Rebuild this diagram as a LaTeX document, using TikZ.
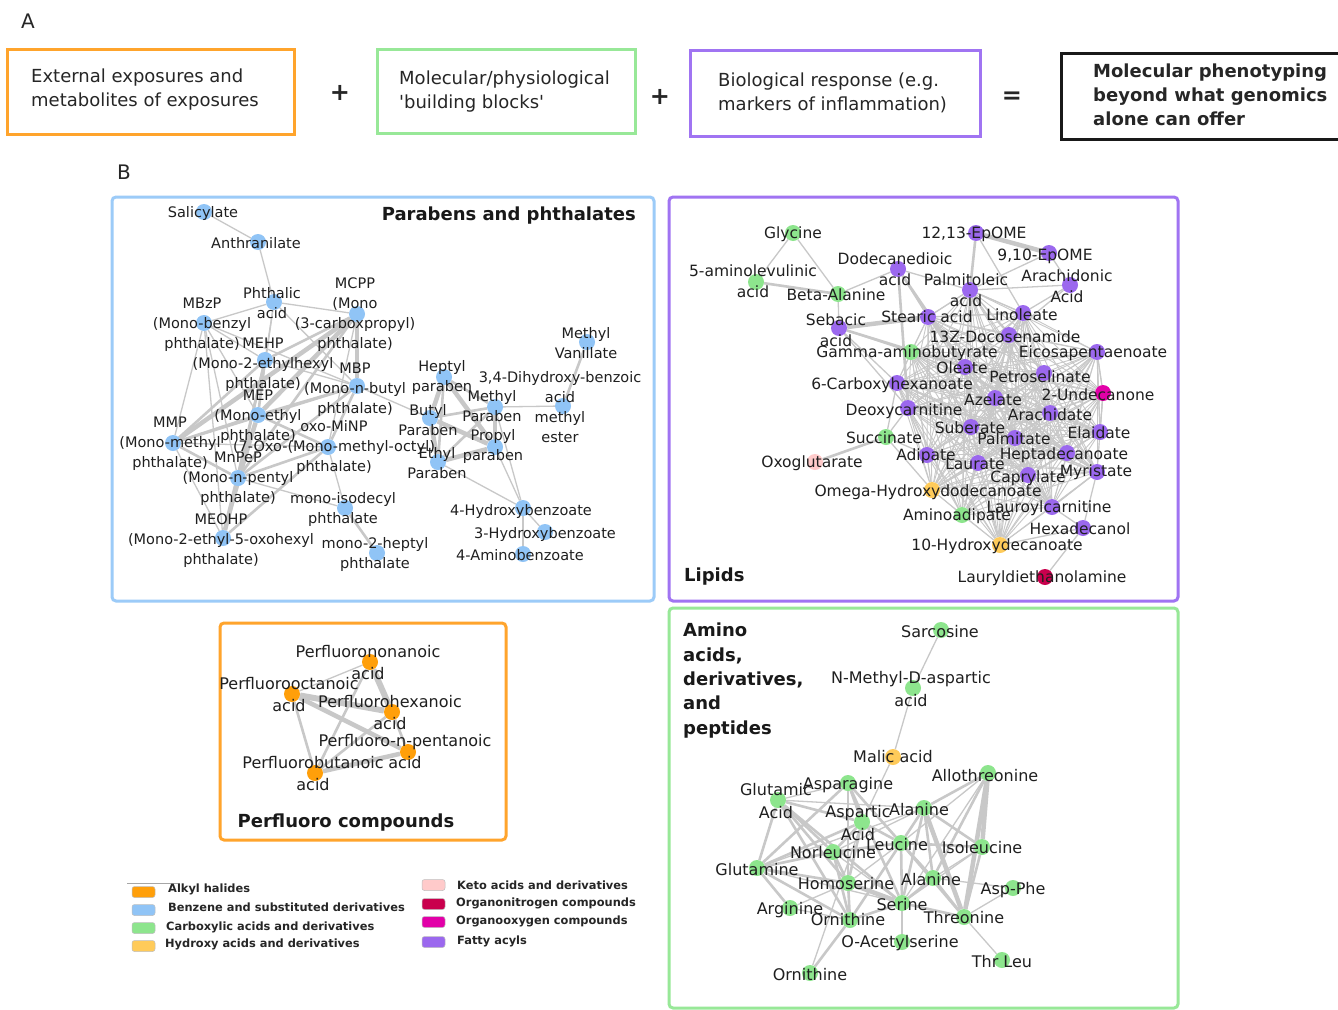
\documentclass[tikz,border=0pt]{standalone}
\usepackage{fontspec}
\setmainfont{DejaVu Sans}
\newfontfamily\nomapfont{DejaVu Sans}[Ligatures=TeXOff]
\definecolor{cbenz}{HTML}{90C4F6}
\definecolor{corange}{HTML}{FF9F0A}
\definecolor{cgreen}{HTML}{8DE58D}
\definecolor{cyellow}{HTML}{FFCB5A}
\definecolor{cpurple}{HTML}{9B68EE}
\definecolor{cpink}{HTML}{FFCACA}
\definecolor{cmag}{HTML}{E200A8}
\definecolor{ccrim}{HTML}{C9004D}
\definecolor{cedge}{HTML}{C8C8C8}
\definecolor{bblue}{HTML}{9CCBF8}
\definecolor{bpurple}{HTML}{A074F2}
\definecolor{borange}{HTML}{FFA42C}
\definecolor{bgreen}{HTML}{98E898}
\pgfdeclarelayer{bg}
\pgfdeclarelayer{edges}
\pgfdeclarelayer{dots}
\pgfsetlayers{bg,edges,dots,main}
\newcommand\mnd[5]{%
  \begin{pgfonlayer}{dots}\node[dot,fill=#2] (#1) at (#3) {};\end{pgfonlayer}%
  \node[lab] (#1-l) at (#4) {#5};}
\newcommand\Edges[2]{\begin{pgfonlayer}{edges}\foreach \a/\b in {#2}{\draw[#1] (\a)--(\b);}\end{pgfonlayer}}
\begin{document}
\begin{tikzpicture}[x=1pt,y=-1pt,
  dot/.style={circle,inner sep=0pt,minimum size=16pt},
  lab/.style={font=\fontsize{14.5}{20}\selectfont,align=center,inner sep=0pt,text=black!88},
  e/.style={draw=cedge,line width=1.3pt},
  em/.style={draw=cedge,line width=2.6pt},
  et/.style={draw=cedge,line width=4.5pt},
  ehair/.style={draw=cedge,line width=0.9pt},
  panel/.style={line width=3pt,rounded corners=4pt},
  topbox/.style={line width=2.6pt,minimum height=85pt,anchor=north west,inner sep=0pt},
  toptxt/.style={font=\fontsize{18}{24}\selectfont,align=left,anchor=west,inner sep=0pt,text=black!85},
  ptitle/.style={font=\bfseries\fontsize{18}{24.3}\selectfont,inner sep=0pt,text=black!90},
  swatch/.style={rounded corners=2.5pt,minimum width=23pt,minimum height=11pt,inner sep=0pt,draw=black!25,line width=0.5pt},
  legtxt/.style={font=\bfseries\fontsize{11.4}{13}\selectfont,anchor=west,inner sep=0pt,text=black!85}
]
\useasboundingbox (0,0) rectangle (1338,1009);
\begin{pgfonlayer}{bg}\fill[white] (0,0) rectangle (1338,1009);\end{pgfonlayer}

% ---------- A ----------
\node[font=\fontsize{20}{24}\selectfont,text=black!85] (labA) at (28,21) {A};
\node[topbox,draw=borange,minimum width=287pt] (b1) at (6,48) {};
\node[toptxt] (t1) at (31,90) {External exposures and\\metabolites of exposures};
\node[font=\bfseries\fontsize{24}{24}\selectfont,text=black!85] (plus1) at (340,93) {+};
\node[topbox,draw=bgreen,minimum width=258pt,minimum height=84pt] (b2) at (376,48) {};
\node[toptxt] (t2) at (399,92) {Molecular/physiological\\{\nomapfont 'building blocks'}};
\node[font=\bfseries\fontsize{24}{24}\selectfont,text=black!85] (plus2) at (660,97) {+};
\node[topbox,draw=bpurple,minimum width=290pt,minimum height=86pt] (b3) at (689,49) {};
\node[toptxt] (t3) at (718,92.5) {Biological response (e.g.\\markers of inflammation)};
\node[font=\bfseries\fontsize{24}{24}\selectfont,text=black!85] (eq) at (1012,98) {=};
\node[topbox,draw=black!90,minimum width=300pt,minimum height=86pt] (b4) at (1060,52) {};
\node[toptxt,font=\bfseries\fontsize{18}{24}\selectfont] (t4) at (1093,95) {Molecular phenotyping\\beyond what genomics\\alone can offer};

% ---------- B ----------
\node[font=\fontsize{20}{24}\selectfont,text=black!85] (labB) at (124,172) {B};

% ===== Parabens and phthalates =====
\draw[panel,draw=bblue] (112,197) rectangle (654,601);
\node[ptitle,anchor=east] (tpar) at (636,216) {Parabens and phthalates};
\mnd{sal}{cbenz}{204,212}{203,213}{Salicylate}
\mnd{ant}{cbenz}{258,242}{256,243}{Anthranilate}
\mnd{pha}{cbenz}{274,302}{272,303}{Phthalic\\acid}
\mnd{mcpp}{cbenz}{357,314}{355,315}{MCPP\\(Mono\\(3-carboxpropyl)\\phthalate)}
\mnd{mbzp}{cbenz}{204,323}{202,325}{MBzP\\(Mono-benzyl\\phthalate)}
\mnd{mehp}{cbenz}{265,360}{263,365}{MEHP\\(Mono-2-ethylhexyl\\phthalate)}
\mnd{mbp}{cbenz}{357,386}{355,390}{MBP\\(Mono-n-butyl\\phthalate)}
\mnd{mep}{cbenz}{258,415}{258,417}{MEP\\(Mono-ethyl\\phthalate)}
\mnd{mmp}{cbenz}{173,443}{170,444}{MMP\\(Mono-methyl\\phthalate)}
\mnd{oxo}{cbenz}{328,447}{334,447}{oxo-MiNP\\(7-Oxo-(Mono-methyl-octyl)\\phthalate)}
\mnd{mnpep}{cbenz}{238,478}{238,479}{MnPeP\\(Mono-n-pentyl\\phthalate)}
\mnd{mid}{cbenz}{345,508}{343,509}{mono-isodecyl\\phthalate}
\mnd{meohp}{cbenz}{223,538}{221,541}{MEOHP\\(Mono-2-ethyl-5-oxohexyl\\phthalate)}
\mnd{mtwoh}{cbenz}{377,553}{375,554}{mono-2-heptyl\\phthalate}
\mnd{mvan}{cbenz}{587,342}{586,343}{Methyl\\Vanillate}
\mnd{hep}{cbenz}{444,377}{442,377}{Heptyl\\paraben}
\mnd{metp}{cbenz}{495,407}{492,406}{Methyl\\Paraben}
\mnd{dhb}{cbenz}{563,406}{560,407}{3,4-Dihydroxy-benzoic\\acid\\methyl\\ester}
\mnd{but}{cbenz}{430,418}{428,420}{Butyl\\Paraben}
\mnd{prop}{cbenz}{495,447}{493,446}{Propyl\\paraben}
\mnd{eth}{cbenz}{438,462}{437,463}{Ethyl\\Paraben}
\mnd{hbf}{cbenz}{523,508}{521,511}{4-Hydroxybenzoate}
\mnd{hbt}{cbenz}{545,532}{545,534}{3-Hydroxybenzoate}
\mnd{abf}{cbenz}{523,554}{520,555}{4-Aminobenzoate}
\Edges{e}{sal/ant,ant/pha,pha/mcpp,pha/mbzp,pha/mehp,pha/mbp,pha/mep,mbzp/mehp,mbzp/mmp,mbzp/meohp,mbzp/mep,mbzp/mbp,mbp/but,oxo/mid,mnpep/mid,mehp/mbp,mmp/oxo,mmp/meohp,mcpp/oxo,mbzp/mnpep,metp/dhb,metp/hbf,eth/hbf,hbf/hbt,hbf/abf,prop/hbf}
\Edges{em}{mid/mtwoh,mcpp/mehp,mcpp/mnpep,mehp/mep,mehp/mmp,mehp/mnpep,mbp/mep,mbp/mmp,mbp/mnpep,mbp/oxo,mep/mmp,mep/oxo,mep/meohp,mmp/mnpep,oxo/mnpep,oxo/meohp,mehp/meohp,hep/metp,but/metp,metp/eth,hep/eth,dhb/mvan}
\Edges{et}{mcpp/mbp,mcpp/mep,mcpp/mmp,mep/mnpep,mnpep/meohp,hep/but,hep/prop,but/prop,but/eth,metp/prop,prop/eth}

% ===== Lipids =====
\draw[panel,draw=bpurple] (669,197) rectangle (1178,601);
\node[ptitle,anchor=west] (tlip) at (684,577) {Lipids};
\tikzset{lab/.style={font=\fontsize{15.5}{20.5}\selectfont,align=center,inner sep=0pt,text=black!88}}
\mnd{gly}{cgreen}{793,233}{793,234}{Glycine}
\mnd{alv}{cgreen}{756,282}{753,281}{5-aminolevulinic\\acid}
\mnd{bala}{cgreen}{838,294}{836,295}{Beta-Alanine}
\mnd{dod}{cpurple}{898,269}{895,269}{Dodecanedioic\\acid}
\mnd{eptw}{cpurple}{976,233}{974,234}{12,13-EpOME}
\mnd{epni}{cpurple}{1049,253}{1045,256}{9,10-EpOME}
\mnd{pal}{cpurple}{970,290}{966,290}{Palmitoleic\\acid}
\mnd{arac}{cpurple}{1070,285}{1067,286}{Arachidonic\\Acid}
\mnd{seb}{cpurple}{839,328}{836,330}{Sebacic\\acid}
\mnd{ste}{cpurple}{928,317}{927,317}{Stearic acid}
\mnd{lin}{cpurple}{1023,313}{1022,315}{Linoleate}
\mnd{doc}{cpurple}{1009,335}{1005,337}{13Z-Docosenamide}
\mnd{gaba}{cgreen}{911,352}{907,353}{Gamma-aminobutyrate}
\mnd{eic}{cpurple}{1097,352}{1093,353}{Eicosapentaenoate}
\mnd{ole}{cpurple}{965,367}{962,368}{Oleate}
\mnd{pet}{cpurple}{1044,373}{1040,377}{Petroselinate}
\mnd{cbx}{cpurple}{897,383}{892,385}{6-Carboxyhexanoate}
\mnd{und}{cmag}{1103,393}{1098,395}{2-Undecanone}
\mnd{aze}{cpurple}{995,398}{993,400}{Azelate}
\mnd{deo}{cpurple}{908,408}{904,411}{Deoxycarnitine}
\mnd{arad}{cpurple}{1050,413}{1050,415}{Arachidate}
\mnd{suc}{cgreen}{886,437}{884,438}{Succinate}
\mnd{sub}{cpurple}{971,427}{970,428}{Suberate}
\mnd{plm}{cpurple}{1015,438}{1014,439}{Palmitate}
\mnd{ela}{cpurple}{1100,432}{1099,433}{Elaidate}
\mnd{oxg}{cpink}{815,462}{812,463}{Oxoglutarate}
\mnd{adi}{cpurple}{927,455}{926,456}{Adipate}
\mnd{lau}{cpurple}{978,463}{975,464}{Laurate}
\mnd{hsd}{cpurple}{1067,453}{1064,455}{Heptadecanoate}
\mnd{myr}{cpurple}{1097,472}{1096,472}{Myristate}
\mnd{cap}{cpurple}{1028,475}{1028,478}{Caprylate}
\mnd{ohd}{cyellow}{932,490}{928,492}{Omega-Hydroxydodecanoate}
\mnd{lcar}{cpurple}{1052,507}{1049,508}{Lauroylcarnitine}
\mnd{aad}{cgreen}{962,515}{957,516}{Aminoadipate}
\mnd{hxd}{cpurple}{1083,528}{1080,529}{Hexadecanol}
\mnd{hdd}{cyellow}{1000,545}{997,546}{10-Hydroxydecanoate}
\mnd{lde}{ccrim}{1045,577}{1042,578}{Lauryldiethanolamine}
\Edges{e}{gly/alv,gly/bala,bala/dod,bala/seb,seb/gaba,seb/cbx,seb/deo,dod/ste,dod/pal,eptw/lin,epni/arac,epni/pal,arac/pal,arac/lin,arac/doc,pal/ste,pal/lin,ste/lin,suc/cbx,suc/deo,suc/adi,suc/ohd,eic/ela,eic/und,und/ela,lde/hxd,hxd/myr,hxd/lcar,hxd/hdd,myr/lcar}
\Edges{em}{alv/bala,dod/deo,eptw/pal,oxg/suc,seb/ole,dod/ole}
\Edges{et}{eptw/epni,seb/ste}
\def\lipcore{ste,pal,lin,doc,gaba,ole,pet,cbx,aze,deo,arad,sub,plm,ela,adi,lau,hsd,myr,cap,ohd,lcar,aad,hdd,eic,und}
\begin{pgfonlayer}{edges}
\foreach \a [count=\i] in \lipcore {\foreach \b [count=\j] in \lipcore {\ifnum\j>\i \draw[ehair] (\a)--(\b);\fi}}
\end{pgfonlayer}

% ===== Perfluoro compounds =====
\draw[panel,draw=borange] (220,623) rectangle (506,840);
\node[ptitle] (tpf) at (346,823) {Perfluoro compounds};
\tikzset{lab/.style={font=\fontsize{16}{22}\selectfont,align=center,inner sep=0pt,text=black!88}}
\mnd{pfn}{corange}{370,662}{368,663}{Perfluorononanoic\\acid}
\mnd{pfo}{corange}{292,694}{289,695}{Perfluorooctanoic\\acid}
\mnd{pfh}{corange}{392,712}{390,713}{Perfluorohexanoic\\acid}
\mnd{pfp}{corange}{408,752}{405,752}{Perfluoro-n-pentanoic\\acid}
\mnd{pfb}{corange}{315,773}{313,774}{Perfluorobutanoic\\acid}
\Edges{e}{pfo/pfn}
\Edges{em}{pfo/pfb,pfn/pfb,pfh/pfp,pfh/pfb}
\Edges{et}{pfo/pfp,pfp/pfb}
\Edges{draw=cedge,line width=6pt}{pfo/pfh,pfn/pfh}

% ===== Amino acids =====
\draw[panel,draw=bgreen] (669,608) rectangle (1178,1008);
\node[ptitle,anchor=west,align=left] (tam) at (683,680.5) {Amino\\acids,\\derivatives,\\and\\peptides};
\tikzset{lab/.style={font=\fontsize{16}{23}\selectfont,align=center,inner sep=0pt,text=black!88}}
\mnd{sar}{cgreen}{941,630}{940,632}{Sarcosine}
\mnd{nmda}{cgreen}{913,688}{911,689}{N-Methyl-D-aspartic\\acid}
\mnd{mal}{cyellow}{893,757}{893,757}{Malic acid}
\mnd{allo}{cgreen}{988,773}{985,776}{Allothreonine}
\mnd{asn}{cgreen}{848,783}{848,785}{Asparagine}
\mnd{glu}{cgreen}{778,800}{776,801}{Glutamic\\Acid}
\mnd{alau}{cgreen}{924,808}{919,810}{Alanine}
\mnd{asp}{cgreen}{862,822}{858,823}{Aspartic\\Acid}
\mnd{leu}{cgreen}{901,843}{897,845}{Leucine}
\mnd{ile}{cgreen}{982,847}{982,848}{Isoleucine}
\mnd{nle}{cgreen}{833,852}{833,853}{Norleucine}
\mnd{gln}{cgreen}{757,868}{757,870}{Glutamine}
\mnd{hse}{cgreen}{848,883}{846,884}{Homoserine}
\mnd{alal}{cgreen}{933,878}{931,880}{Alanine}
\mnd{aph}{cgreen}{1013,888}{1013,890}{Asp-Phe}
\mnd{arg}{cgreen}{790,908}{790,910}{Arginine}
\mnd{ser}{cgreen}{902,903}{902,905}{Serine}
\mnd{orn}{cgreen}{850,920}{848,920}{Ornithine}
\mnd{thr}{cgreen}{964,917}{964,918}{Threonine}
\mnd{oas}{cgreen}{902,942}{900,943}{O-Acetylserine}
\mnd{tl}{cgreen}{1002,960}{1002,962}{Thr Leu}
\mnd{ornb}{cgreen}{810,973}{810,975}{Ornithine}
\Edges{e}{sar/nmda,nmda/mal,mal/asp,glu/alau,asn/alal,asn/glu,asp/ornb,alau/nle,alau/gln,leu/hse,ile/ser,nle/ser,gln/ser,hse/arg,alal/aph,ser/oas,thr/tl,thr/aph,arg/orn,ile/alal,allo/leu,allo/ser}
\Edges{em}{glu/asp,glu/gln,glu/nle,glu/hse,glu/ser,glu/orn,asn/asp,asn/leu,asn/hse,asn/ser,asn/gln,asp/leu,asp/nle,asp/gln,asp/hse,alau/leu,alau/ile,alau/ser,alau/alal,leu/ile,leu/nle,leu/ser,leu/thr,leu/alal,leu/orn,ile/thr,nle/gln,nle/hse,nle/orn,gln/hse,gln/arg,gln/orn,hse/orn,alal/thr,alal/ser,ser/thr,ser/orn,orn/ornb,allo/alau,allo/alal}
\Edges{et}{allo/thr,allo/ile,alau/thr,hse/ser}

% ===== Legend =====
\draw[black!35,line width=0.6pt] (127,883) -- (178,883);
\node[swatch,fill=corange] (s1) at (143.5,892) {};
\node[legtxt] (l1) at (168,889) {Alkyl halides};
\node[swatch,fill=cbenz] (s2) at (143.5,910) {};
\node[legtxt] (l2) at (168,907) {Benzene and substituted derivatives};
\node[swatch,fill=cgreen] (s3) at (143.5,928) {};
\node[legtxt] (l3) at (166,927) {Carboxylic acids and derivatives};
\node[swatch,fill=cyellow] (s4) at (143.5,946) {};
\node[legtxt] (l4) at (165,944) {Hydroxy acids and derivatives};
\node[swatch,fill=cpink] (s5) at (433.5,885) {};
\node[legtxt] (l5) at (457,885) {Keto acids and derivatives};
\node[swatch,fill=ccrim] (s6) at (433.5,904) {};
\node[legtxt] (l6) at (456,903) {Organonitrogen compounds};
\node[swatch,fill=cmag] (s7) at (433.5,922) {};
\node[legtxt] (l7) at (456,921) {Organooxygen compounds};
\node[swatch,fill=cpurple] (s8) at (433.5,942) {};
\node[legtxt] (l8) at (457,941) {Fatty acyls};
\end{tikzpicture}
\end{document}
